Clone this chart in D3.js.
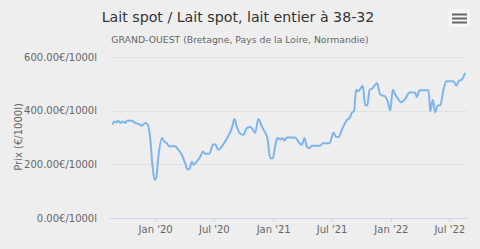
<!DOCTYPE html>
<html><head><meta charset="utf-8">
<script src="https://cdn.jsdelivr.net/npm/d3@7"></script>
<style>
html,body{margin:0;padding:0;background:#eeeeee;}
svg{display:block;}
</style></head>
<body>
<script>
const title = "Lait spot / Lait spot, lait entier à 38-32";
const subtitle = "GRAND-OUEST (Bretagne, Pays de la Loire, Normandie)";
const yAxisTitle = "Prix (€/1000l)";
const yTicks = [0, 200, 400, 600];
const xTicks = ["2020-01-01","2020-07-01","2021-01-01","2021-07-01","2022-01-01","2022-07-01"];
const dates = ["2019-08-22","2019-08-27","2019-09-03","2019-09-08","2019-09-16","2019-09-22","2019-09-30","2019-10-05","2019-10-21","2019-10-31",
"2019-11-10","2019-11-21","2019-12-01","2019-12-09","2019-12-16","2019-12-24","2019-12-30","2020-01-04","2020-01-11","2020-01-22",
"2020-01-29","2020-02-06","2020-02-13","2020-03-03","2020-03-13","2020-03-24","2020-04-03","2020-04-10","2020-04-16","2020-04-24",
"2020-04-29","2020-05-09","2020-05-20","2020-05-28","2020-06-04","2020-06-17","2020-06-28","2020-07-05","2020-07-15","2020-07-26",
"2020-08-05","2020-08-15","2020-08-26","2020-09-03","2020-09-10","2020-09-21","2020-10-01","2020-10-11","2020-10-22","2020-10-30",
"2020-11-06","2020-11-16","2020-11-27","2020-12-07","2020-12-14","2020-12-23","2020-12-31","2021-01-07","2021-01-14","2021-01-23",
"2021-01-30","2021-02-05","2021-02-12","2021-03-10","2021-03-20","2021-03-31","2021-04-08","2021-04-15","2021-04-23","2021-05-01",
"2021-05-27","2021-06-04","2021-06-25","2021-07-07","2021-07-15","2021-07-23","2021-08-02","2021-08-18","2021-08-26","2021-09-02",
"2021-09-09","2021-09-15","2021-09-21","2021-09-28","2021-10-06","2021-10-13","2021-10-20","2021-10-27","2021-11-03","2021-11-11",
"2021-11-19","2021-11-29","2021-12-14","2021-12-22","2021-12-30","2022-01-07","2022-01-14","2022-01-25","2022-02-01","2022-02-14",
"2022-02-28","2022-03-17","2022-03-22","2022-03-31","2022-04-28","2022-05-03","2022-05-11","2022-05-18","2022-05-26","2022-06-03",
"2022-06-13","2022-06-22","2022-07-14","2022-07-23","2022-07-30","2022-08-09","2022-08-19"];
const prices = [348,360,356,362,354,360,354,362,362,354,
351,344,354,348,304,192,142,148,229,298,
285,279,267,267,254,235,204,182,182,210,
198,210,229,248,239,239,273,275,254,267,
285,306,335,369,341,314,310,335,339,329,
317,369,341,319,298,223,223,267,298,292,
298,289,300,300,285,273,298,267,260,269,
269,279,279,319,302,302,329,366,373,392,
400,478,472,481,493,422,419,478,481,493,
503,460,453,435,401,478,460,441,431,443,
468,468,451,476,476,397,441,394,419,419,
478,510,510,493,510,516,541];

const W = 480, H = 249;
const parse = d3.timeParse("%Y-%m-%d");
const data = dates.map((d,i)=>({date:parse(d), v:prices[i]}));

const svg = d3.select("body").append("svg").attr("width",W).attr("height",H);
svg.append("rect").attr("width",W).attr("height",H).attr("fill","#eeeeee");

const x = d3.scaleTime().domain([parse("2019-08-14"), parse("2022-08-25")]).range([110, 467]);
const y = d3.scaleLinear().domain([0,600]).range([218, 57]);

const font = "'DejaVu Sans', sans-serif";

// gridlines
svg.append("g").selectAll("line").data(yTicks.filter(t=>t>0)).join("line")
  .attr("x1",110).attr("x2",467).attr("y1",d=>Math.round(y(d))+0.5).attr("y2",d=>Math.round(y(d))+0.5)
  .attr("stroke","#e2e2e2").attr("stroke-width",1);

// y axis labels
const yAxis = d3.axisLeft(y).tickValues(yTicks).tickSize(0).tickPadding(0)
  .tickFormat(d=>d3.format(".2f")(d)+"€/1000l");
const gy = svg.append("g").attr("transform","translate(97,0)").call(yAxis);
gy.select(".domain").remove();
gy.selectAll("text").attr("fill","#666").style("font-family",font).style("font-size","10px").attr("dy","0.32em");

// x axis
const xAxis = d3.axisBottom(x).tickValues(xTicks.map(parse)).tickSize(4).tickPadding(4)
  .tickFormat(d3.timeFormat("%b '%y"));
const gx = svg.append("g").attr("transform","translate(0,218)").call(xAxis);
gx.select(".domain").attr("stroke","#ccd6eb").attr("d","M110,0.5H467");
gx.selectAll(".tick line").attr("stroke","#ccd6eb");
gx.selectAll("text").attr("fill","#666").style("font-family",font).style("font-size","10px");

// y axis title
svg.append("text").attr("transform","translate(22,137) rotate(-90)").attr("text-anchor","middle")
  .attr("fill","#666").style("font-family",font).style("font-size","10px").text(yAxisTitle);

// line
const line = d3.line().x(d=>x(d.date)).y(d=>y(d.v)).curve(d3.curveMonotoneX);
svg.append("path").datum(data).attr("d",line).attr("fill","none")
  .attr("stroke","#7cb5ec").attr("stroke-width",2).attr("stroke-linejoin","round");

// titles
svg.append("text").attr("x",238).attr("y",22).attr("text-anchor","middle").attr("fill","#333")
  .style("font-family",font).style("font-size","14.2px").text(title);
svg.append("text").attr("x",240).attr("y",43).attr("text-anchor","middle").attr("fill","#666")
  .style("font-family",font).style("font-size","9.3px").text(subtitle);

// menu button
const mb = svg.append("g");
mb.append("rect").attr("x",449).attr("y",9).attr("width",21).attr("height",18).attr("rx",2).attr("fill","#f7f7f7");
[14,18,22].forEach(yy=>{
  mb.append("line").attr("x1",452).attr("x2",467).attr("y1",yy+0.5).attr("y2",yy+0.5)
    .attr("stroke","#666").attr("stroke-width",2);
});
</script>
</body></html>
